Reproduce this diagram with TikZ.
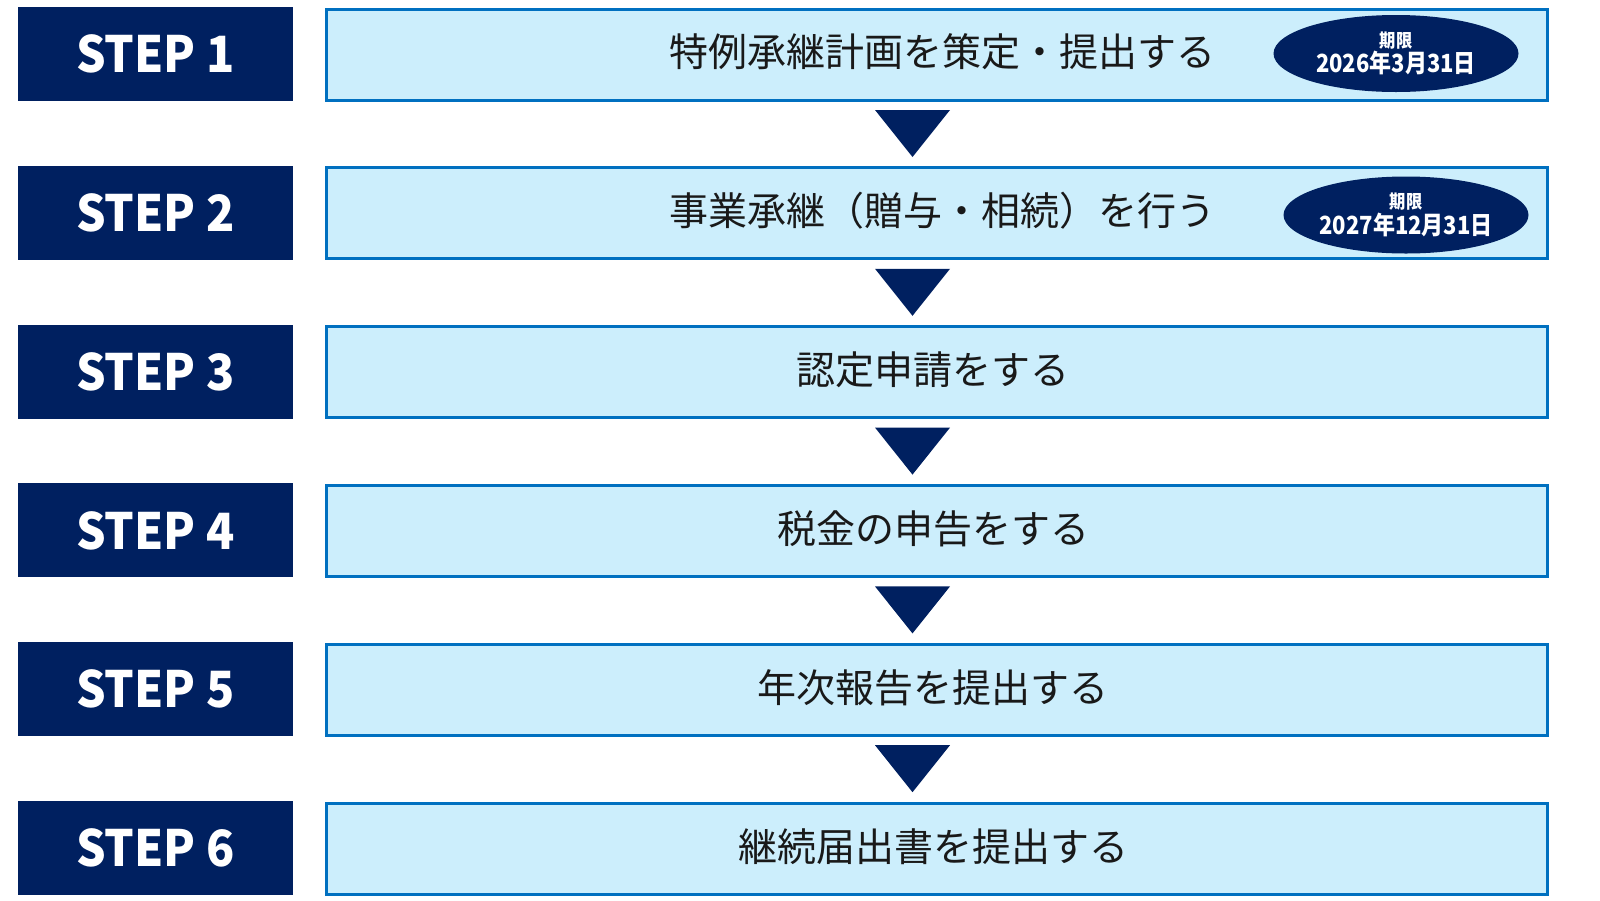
\documentclass[tikz,border=0pt]{standalone}
\usepackage{fontspec}
\setmainfont{Noto Sans CJK JP}
\newfontfamily\stepfont[FakeStretch=0.93]{Noto Sans CJK JP}
\newfontfamily\datefont[FakeStretch=0.88]{Noto Sans CJK JP}
\usetikzlibrary{shapes.geometric}
\definecolor{navy}{HTML}{002060}
\definecolor{edgeblue}{HTML}{0070C0}
\definecolor{paleblue}{HTML}{CCEEFC}
\begin{document}
\begin{tikzpicture}[x=1pt,y=-1pt,
    steplabel/.style={fill=navy,text=white,minimum width=275pt,minimum height=94pt,
      inner sep=0pt,font=\fontsize{50}{60}\stepfont\bfseries},
    taskbox/.style={fill=paleblue,draw=edgeblue,line width=3pt,minimum width=1221pt,
      minimum height=91pt,inner sep=0pt},
    tasktext/.style={text=black!90,font=\fontsize{39}{46}\selectfont},
    deadline/.style={ellipse,fill=navy,text=white,minimum width=245pt,minimum height=77pt,
      inner sep=0pt,align=center,font=\datefont\bfseries},
    downmark/.style={fill=navy}]
  \useasboundingbox (0,0) rectangle (1600,900);
  % left labels
  \node[steplabel] (s1) at (155.5,54.0) {STEP 1\hspace{8pt}};
  \node[steplabel] (s2) at (155.5,212.8) {STEP 2\hspace{8pt}};
  \node[steplabel] (s3) at (155.5,371.6) {STEP 3\hspace{8pt}};
  \node[steplabel] (s4) at (155.5,530.4) {STEP 4\hspace{8pt}};
  \node[steplabel] (s5) at (155.5,689.2) {STEP 5\hspace{8pt}};
  \node[steplabel] (s6) at (155.5,848.0) {STEP 6\hspace{8pt}};
  % task boxes
  \node[taskbox] (b1) at (937,54.5) {};
  \node[taskbox] (b2) at (937,213.3) {};
  \node[taskbox] (b3) at (937,372.1) {};
  \node[taskbox] (b4) at (937,530.9) {};
  \node[taskbox] (b5) at (937,689.7) {};
  \node[taskbox] (b6) at (937,848.5) {};
  \node[tasktext] (t1) at (942,52) {特例承継計画を策定・提出する};
  \node[tasktext] (t2) at (942,211) {事業承継（贈与・相続）を行う};
  \node[tasktext] (t3) at (933,370) {認定申請をする};
  \node[tasktext] (t4) at (933,529) {税金の申告をする};
  \node[tasktext] (t5) at (933,688) {年次報告を提出する};
  \node[tasktext] (t6) at (933,847) {継続届出書を提出する};
  % deadlines
  \node[deadline] (d1) at (1396,53.5)
    {{\fontsize{18.5}{20}\selectfont 期限}\\[1pt]{\fontsize{25}{26}\selectfont 2026年3月31日}};
  \node[deadline] (d2) at (1406,215)
    {{\fontsize{18.5}{20}\selectfont 期限}\\[1pt]{\fontsize{25}{26}\selectfont 2027年12月31日}};
  % arrows between boxes
  \begin{scope}
    \fill[downmark] (875,110.0) -- (950,110.0) -- (912.5,157.0) -- cycle;
    \fill[downmark] (875,268.8) -- (950,268.8) -- (912.5,315.8) -- cycle;
    \fill[downmark] (875,427.6) -- (950,427.6) -- (912.5,474.6) -- cycle;
    \fill[downmark] (875,586.4) -- (950,586.4) -- (912.5,633.4) -- cycle;
    \fill[downmark] (875,745.2) -- (950,745.2) -- (912.5,792.2) -- cycle;
  \end{scope}
\end{tikzpicture}
\end{document}
